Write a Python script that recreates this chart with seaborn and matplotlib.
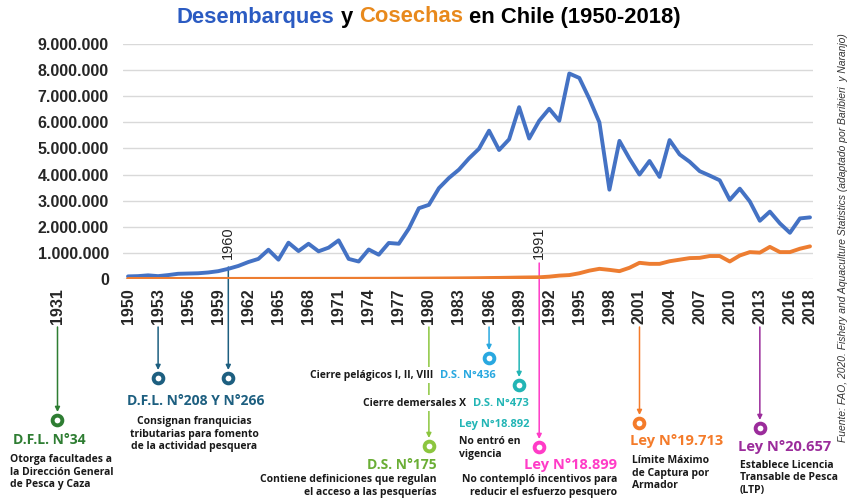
import matplotlib
matplotlib.use("Agg")
import matplotlib.pyplot as plt
import seaborn as sns
import pandas as pd
from matplotlib.transforms import blended_transform_factory

# Landings and harvests in Chile (tonnes)
years = list(range(1950, 2019))
desembarques = [
    100000, 110000, 140000, 110000, 150000, 200000, 210000, 220000, 250000, 300000,
    390000, 500000, 650000, 770000, 1120000, 740000, 1390000, 1070000, 1350000, 1060000,
    1200000, 1480000, 770000, 670000, 1130000, 930000, 1380000, 1350000, 1930000, 2710000,
    2840000, 3480000, 3870000, 4190000, 4620000, 4990000, 5680000, 4940000, 5350000, 6580000,
    5380000, 6060000, 6520000, 6060000, 7870000, 7700000, 6900000, 6000000, 3420000, 5290000,
    4610000, 4000000, 4520000, 3910000, 5320000, 4770000, 4490000, 4130000, 3960000, 3780000,
    3030000, 3460000, 2970000, 2230000, 2580000, 2130000, 1770000, 2320000, 2360000,
]
cosechas = [
    2000, 2000, 2000, 2000, 3000, 3000, 3000, 3000, 3000, 4000,
    4000, 4000, 5000, 5000, 5000, 5000, 6000, 6000, 6000, 7000,
    7000, 8000, 8000, 8000, 9000, 10000, 10000, 12000, 14000, 16000,
    18000, 20000, 22000, 25000, 28000, 32000, 38000, 42000, 48000, 55000,
    60000, 65000, 90000, 130000, 150000, 220000, 320000, 390000, 350000, 300000,
    430000, 620000, 580000, 580000, 680000, 740000, 800000, 810000, 880000, 880000,
    670000, 900000, 1030000, 1010000, 1230000, 1030000, 1030000, 1160000, 1250000,
]
xtick_years = [1950, 1953, 1956, 1959, 1962, 1965, 1968, 1971, 1974, 1977, 1980,
               1983, 1986, 1989, 1992, 1995, 1998, 2001, 2004, 2007, 2010, 2013,
               2016, 2018]
ytick_values = [0, 1000000, 2000000, 3000000, 4000000, 5000000, 6000000,
                7000000, 8000000, 9000000]

event_years = [1931, 1953, 1960, 1980, 1986, 1989, 1991, 2001, 2013]
event_colors = ["#2e7d32", "#1d5f80", "#1d5f80", "#8cc63f", "#29a8e0",
                "#22b5b5", "#ff3cc7", "#f47b2a", "#9b2c9b"]

df = pd.DataFrame({"Año": years, "Desembarques": desembarques, "Cosechas": cosechas})

sns.set_style("white")
plt.rcParams["font.family"] = ["Liberation Sans", "DejaVu Sans"]

W, H = 853, 498
fig = plt.figure(figsize=(W / 100, H / 100), dpi=100)
ax = fig.add_axes([122.7 / W, 1 - 279 / H, (813 - 122.7) / W, (279 - 44) / H])


def fx(px):
    return px / W


def fy(py):
    return 1 - py / H


sns.lineplot(data=df, x="Año", y="Desembarques", color="#4472c4", lw=2.8, ax=ax, zorder=3)
sns.lineplot(data=df, x="Año", y="Cosechas", color="#ed7d31", lw=2.8, ax=ax, zorder=3)

ax.set_xlim(1949.47, 2018.3)
ax.set_ylim(0, 9000000)
ax.set_xticks(xtick_years)
ax.set_xticklabels([str(y) for y in xtick_years], rotation=90, fontsize=11.5, fontweight="bold")
ax.set_yticks(ytick_values)
ax.set_yticklabels([f"{v:,}".replace(",", ".") for v in ytick_values], fontsize=11.5,
                   fontweight="bold")
ax.tick_params(axis="x", length=0, pad=6.5)
ax.tick_params(axis="y", length=0, pad=10)
ax.yaxis.grid(True, color="#d9d9d9", lw=1)
ax.set_axisbelow(True)
for s in ax.spines.values():
    s.set_visible(False)
ax.set_xlabel("")
ax.set_ylabel("")

# 1931 sits off the scale, to the left of the axis
fig.text(fx(57.5), fy(288), "1931", rotation=90, ha="center", va="top",
         fontsize=11.5, fontweight="bold")

# year markers inside the plot
tr = blended_transform_factory(ax.transData, fig.transFigure)
ax.text(1960, fy(259), "1960", rotation=90, ha="center", va="bottom", fontsize=10.5,
        transform=tr)
ax.text(1991, fy(259), "1991", rotation=90, ha="center", va="bottom", fontsize=10.5,
        transform=tr)

# arrows and rings: (line start y, ring y) in pixels
starts = [327, 327, 267, 327, 327, 327, 263, 327, 327]
rings = [420, 378, 378, 446, 358, 385, 447, 423, 428]
for yr, c, y0, y1 in zip(event_years, event_colors, starts, rings):
    if yr < 1950:
        t = fig.transFigure
        x = fx(57.5)
    else:
        t = tr
        x = yr
    ax.annotate("", xy=(x, fy(y1 - 8)), xytext=(x, fy(y0)), xycoords=t, textcoords=t,
                arrowprops=dict(arrowstyle="-|>", color=c, lw=1.1, mutation_scale=7,
                                shrinkA=0, shrinkB=0),
                annotation_clip=False, zorder=2)
    ax.plot([x], [fy(y1)], "o", transform=t, ms=7, mfc="white", mec=c, mew=2.8,
            clip_on=False, zorder=5)

fam = ["Open Sans", "DejaVu Sans"]
dark = "#1a1a1a"


def label(px, py, s, color, size, ha="left", bg=False, ls=1.15):
    kw = dict(ha=ha, va="center", color=color, fontsize=size, fontweight="bold",
              family=fam, linespacing=ls, zorder=6)
    if bg:
        kw["bbox"] = dict(facecolor="white", edgecolor="none", pad=1.5)
    fig.text(fx(px), fy(py), s, **kw)


# D.F.L. N°34
label(13, 440, "D.F.L. N°34", event_colors[0], 10)
label(10, 472, "Otorga facultades a\nla Dirección General\nde Pesca y Caza", dark, 7.5)
# D.F.L. N°208 y N°266
label(196, 401, "D.F.L. N°208 Y N°266", event_colors[1], 10, ha="center")
label(194, 434, "Consignan franquicias\ntributarias para fomento\nde la actividad pesquera",
      dark, 7.5, ha="center")
# D.S. N°175
label(437, 465, "D.S. N°175", "#6aae35", 10, ha="right")
label(437, 486, "Contiene definiciones que regulan\nel acceso a las pesquerías", dark, 7.5,
      ha="right")
label(433, 375, "Cierre pelágicos I, II, VIII", dark, 7.5, ha="right", bg=True)
label(466, 403, "Cierre demersales X", dark, 7.5, ha="right", bg=True)
# D.S. N°436 / N°473 / Ley N°18.892
label(440, 375, "D.S. N°436", event_colors[4], 8)
label(473, 403, "D.S. N°473", event_colors[5], 8)
label(459, 424, "Ley N°18.892", event_colors[5], 8)
label(459, 448, "No entró en\nvigencia", dark, 7.5)
# Ley N°18.899
label(617, 465, "Ley N°18.899", event_colors[6], 10.5, ha="right")
label(617, 486, "No contempló incentivos para\nreducir el esfuerzo pesquero", dark, 7.5,
      ha="right")
# Ley N°19.713
label(630, 441, "Ley N°19.713", event_colors[7], 10.5)
label(632, 473, "Límite Máximo\nde Captura por\nArmador", dark, 7.5)
# Ley N°20.657
label(738, 447, "Ley N°20.657", event_colors[8], 10.5)
label(740, 478, "Establece Licencia\nTransable de Pesca\n(LTP)", dark, 7.5)

# source note
fig.text(fx(843), fy(442), "Fuente: FAO, 2020. Fishery and Aquaculture Statistics "
         "(adaptado por Baribieri  y Naranjo)", rotation=90, ha="center", va="bottom",
         fontsize=7.4, style="italic", color="#333333")

# multicolour title
parts = [("Desembarques", "#2b5bc2"), ("y", "black"), ("Cosechas", "#e8891c"),
         ("en Chile (1950-2018)", "black")]
renderer = fig.canvas.get_renderer()
tsize = 15.8
gap = tsize * 0.28 * 100 / 72
objs = []
widths = []
for s, c in parts:
    t = fig.text(0, fy(17), s, color=c, fontsize=tsize, fontweight="bold", va="center")
    objs.append(t)
    widths.append(t.get_window_extent(renderer).width)
total = sum(widths) + gap * (len(parts) - 1)
x0 = 429 - total / 2
for t, w in zip(objs, widths):
    t.set_x(fx(x0))
    x0 += w + gap

fig.savefig("out.png", dpi=100)
